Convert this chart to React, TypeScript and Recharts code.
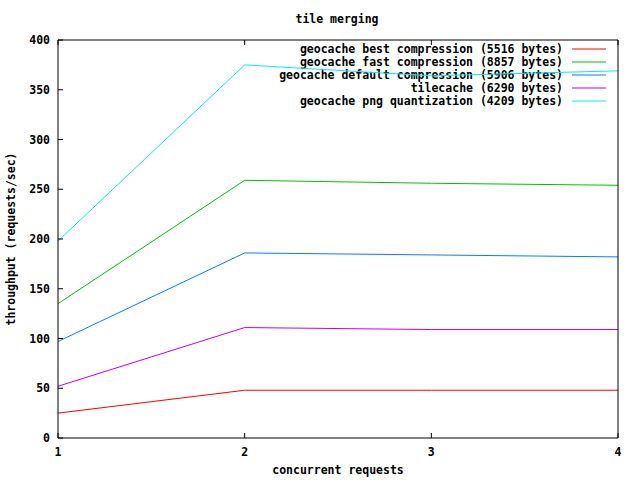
import React from 'react'
import { LineChart, Line, XAxis, YAxis, Customized } from 'recharts'

document.body.style.margin = '0'

const requests = [1, 2, 3, 4]
const best = [25, 48, 48, 48]
const fast = [135, 259, 256, 254]
const def = [97, 186, 184, 182]
const tilecache = [52, 111, 109, 109]
const pngQuant = [198, 375, 364, 369]
const yTicks = [0, 50, 100, 150, 200, 250, 300, 350, 400]

const series = [
  { key: 'best', name: 'geocache best compression (5516 bytes)', color: '#ff0000', values: best },
  { key: 'fast', name: 'geocache fast compression (8857 bytes)', color: '#00c000', values: fast },
  { key: 'def', name: 'geocache default compression (5906 bytes)', color: '#0080ff', values: def },
  { key: 'tilecache', name: 'tilecache (6290 bytes)', color: '#c000ff', values: tilecache },
  { key: 'png', name: 'geocache png quantization (4209 bytes)', color: '#00eeee', values: pngQuant },
]

const data = requests.map((r, i) => {
  const row: Record<string, number> = { x: r }
  series.forEach((s) => (row[s.key] = s.values[i]))
  return row
})

const font = { fontFamily: '"DejaVu Sans Mono", monospace', fontSize: 11.5, fontWeight: 'bold' as const }
const T = 5

const BottomTick = (p: any) => (
  <g>
    <line x1={p.x} y1={p.y} x2={p.x} y2={p.y - T} stroke="#000" />
    <text x={p.x} y={p.y + 18} textAnchor="middle" fill="#000" style={font}>{p.payload.value}</text>
  </g>
)
const TopTick = (p: any) => <line x1={p.x} y1={p.y} x2={p.x} y2={p.y + T} stroke="#000" />
const LeftTick = (p: any) => (
  <g>
    <line x1={p.x} y1={p.y} x2={p.x + T} y2={p.y} stroke="#000" />
    <text x={p.x - 8} y={p.y + 4} textAnchor="end" fill="#000" style={font}>{p.payload.value}</text>
  </g>
)
const RightTick = (p: any) => <line x1={p.x} y1={p.y} x2={p.x - T} y2={p.y} stroke="#000" />

const Labels = () => (
  <g style={font} fill="#000">
    <text x={337} y={23} textAnchor="middle">tile merging</text>
    <text x={338} y={474} textAnchor="middle">concurrent requests</text>
    <text x={15} y={239} textAnchor="middle" transform="rotate(-90 15 239)">throughput (requests/sec)</text>
    {series.map((s, i) => (
      <g key={s.key}>
        <text x={563} y={53 + i * 13} textAnchor="end">{s.name}</text>
        <line x1={572} x2={606} y1={49 + i * 13} y2={49 + i * 13} stroke={s.color} />
      </g>
    ))}
  </g>
)

export default function App() {
  return (
    <LineChart width={640} height={480} data={data} margin={{ top: 39, right: 21, bottom: 0, left: 0 }}>
      <XAxis dataKey="x" type="number" domain={[1, 4]} ticks={requests} height={42} tickSize={0} tickMargin={0} tickLine={false} stroke="#000" tick={<BottomTick />} interval={0} />
      <XAxis xAxisId="top" orientation="top" dataKey="x" type="number" domain={[1, 4]} ticks={requests} height={1} tickSize={0} tickMargin={0} tickLine={false} stroke="#000" tick={<TopTick />} interval={0} />
      <YAxis type="number" domain={[0, 400]} ticks={yTicks} width={58} tickSize={0} tickMargin={0} tickLine={false} stroke="#000" tick={<LeftTick />} interval={0} />
      <YAxis yAxisId="right" orientation="right" type="number" domain={[0, 400]} ticks={yTicks} width={1} tickSize={0} tickMargin={0} tickLine={false} stroke="#000" tick={<RightTick />} interval={0} />
      <Customized component={<Labels />} />
      {series.map((s) => (
        <Line key={s.key} dataKey={s.key} type="linear" stroke={s.color} strokeWidth={1} dot={false} isAnimationActive={false} />
      ))}
    </LineChart>
  )
}
